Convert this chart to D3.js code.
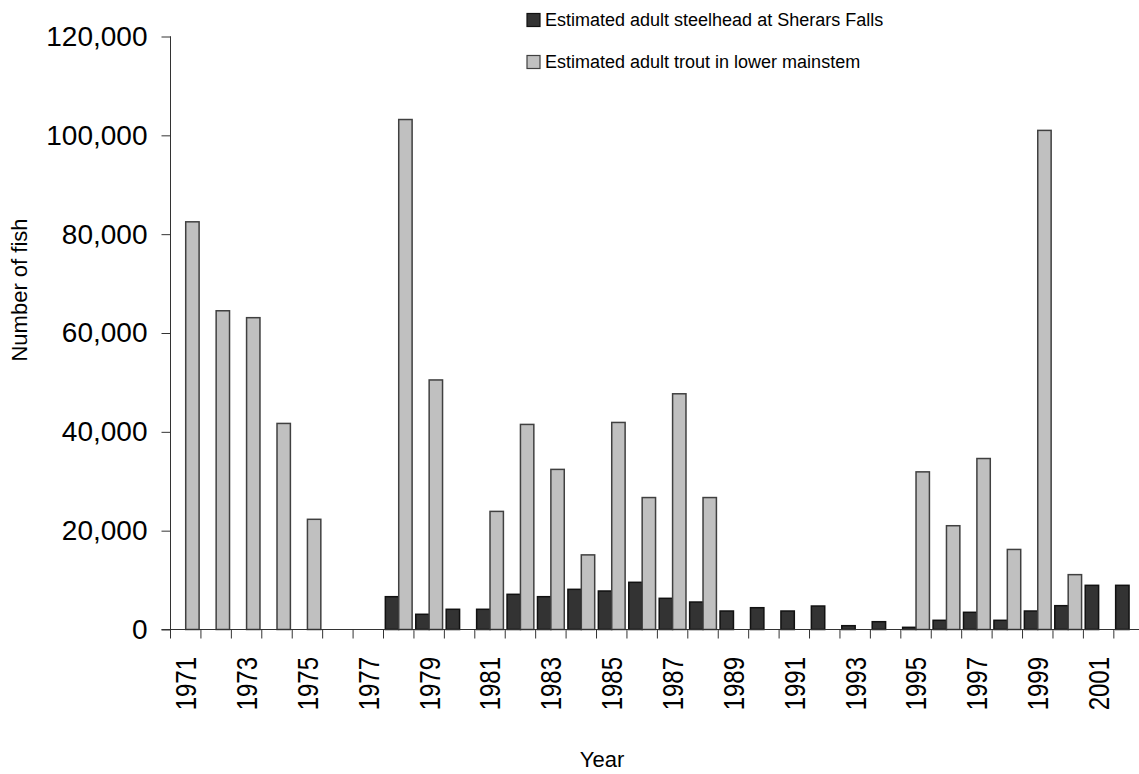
<!DOCTYPE html>
<html><head><meta charset="utf-8">
<script src="https://cdn.jsdelivr.net/npm/d3@7/dist/d3.min.js"></script>
<style>body{margin:0;background:#fff;}svg{display:block;font-family:Arial,"Liberation Sans",sans-serif;}</style>
</head><body>
<svg id="c" width="1139" height="774"></svg>
<script>
const years = ["1971","1972","1973","1974","1975","1976","1977","1978","1979","1980","1981","1982","1983","1984","1985","1986","1987","1988","1989","1990","1991","1992","1993","1994","1995","1996","1997","1998","1999","2000","2001","2002"];
const steelhead = [0,0,0,0,0,0,0,6640,3080,4090,4090,7120,6640,8130,7790,9550,6310,5560,3740,4410,3740,4750,770,1580,440,1860,3480,1860,3740,4820,8940,8940];
const trout = [82500,64500,63100,41700,22300,0,0,103200,50500,0,23900,41500,32400,15100,41900,26700,47700,26700,0,0,0,0,0,0,31900,21000,34600,16200,101000,11100,0,0];
const seriesNames = ["Estimated adult steelhead at Sherars Falls","Estimated adult trout in lower mainstem"];
const yTicks = [0,20000,40000,60000,80000,100000,120000];

const svg = d3.select("#c");
const x0 = 170.5, x1 = 170.5 + 30.43*32;
const yTop = 36.5, yBot = 629.5;
const x = d3.scaleBand().domain(years).range([x0, x1]).paddingInner(0.12).paddingOuter(0.06);
const xb = d3.scaleBand().domain(years).range([x0, x1]);
const y = d3.scaleLinear().domain([0,120000]).range([yBot, yTop]);
const inner = d3.scaleBand().domain([0,1]).range([0, x.bandwidth()]);

const colors = ["#333333","#c0c0c0"];
const strokes = ["#111111","#404040"];
const data = [steelhead, trout];

data.forEach((arr, si) => {
  svg.append("g").selectAll("rect").data(years.map((yr,i)=>({yr, v:arr[i]})).filter(d=>d.v>0))
    .join("rect")
    .attr("x", d => x(d.yr) + inner(si))
    .attr("width", inner.bandwidth())
    .attr("y", d => y(d.v))
    .attr("height", d => yBot - y(d.v))
    .attr("fill", colors[si])
    .attr("stroke", strokes[si])
    .attr("stroke-width", 1.5);
});

const ya = svg.append("g").attr("transform", `translate(${x0},0)`)
  .call(d3.axisLeft(y).tickValues(yTicks).tickFormat(d3.format(",")).tickSize(9).tickPadding(14));
ya.select(".domain").attr("stroke","#333").attr("d", `M-0.5,${yTop}H0V${yBot}`);
ya.selectAll(".tick line").attr("stroke","#333");
ya.selectAll("text").attr("font-size", 28).attr("fill","#000").attr("font-family","Arial, 'Liberation Sans', sans-serif");

svg.append("line").attr("x1", x0-9).attr("x2", x1).attr("y1", yBot).attr("y2", yBot).attr("stroke","#333");
const bounds = years.map(yr => xb(yr)).concat([x1]);
svg.append("g").selectAll("line").data(bounds).join("line")
  .attr("x1", d=>d).attr("x2", d=>d).attr("y1", yBot).attr("y2", yBot+9).attr("stroke","#333");
svg.append("g").selectAll("text").data(years.filter((d,i)=>i%2===0)).join("text")
  .attr("transform", d => `translate(${xb(d)+xb.bandwidth()/2},657) rotate(-90) scale(1,1.2)`)
  .attr("dy","0.36em")
  .attr("text-anchor","end")
  .attr("font-size", 24)
  .text(d=>d);

svg.append("text").attr("transform","translate(27,290) rotate(-90)").attr("text-anchor","middle")
  .attr("font-size",22).text("Number of fish");
svg.append("text").attr("x",602).attr("y",767).attr("text-anchor","middle").attr("font-size",22).text("Year");

const lg = svg.append("g");
seriesNames.forEach((n, i) => {
  const yy = 13.5 + i*42;
  lg.append("rect").attr("x",527).attr("y",yy).attr("width",13).attr("height",13)
    .attr("fill",colors[i]).attr("stroke",strokes[i]).attr("stroke-width",1.2);
  lg.append("text").attr("x",545).attr("y",yy+12.5).attr("font-size",18).text(n);
});
</script>
</body></html>
